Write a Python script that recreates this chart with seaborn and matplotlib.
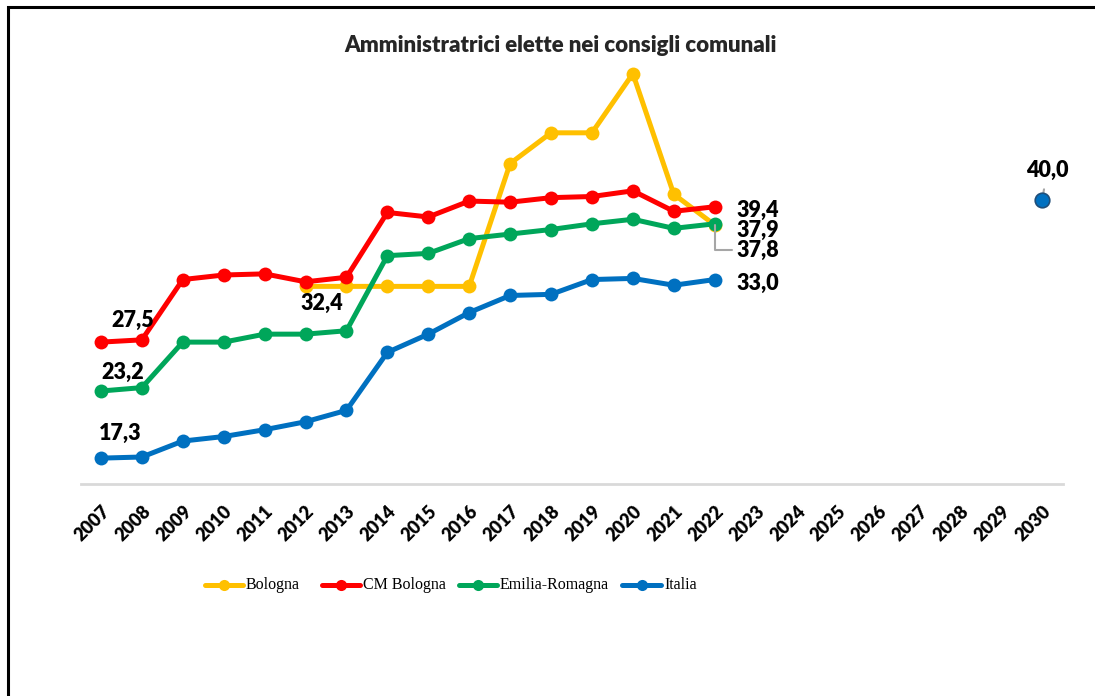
import numpy as np
import pandas as pd
import matplotlib
matplotlib.use("Agg")
import matplotlib.pyplot as plt
from matplotlib.lines import Line2D
import seaborn as sns

# Share of women elected to municipal councils (%)
years = [str(y) for y in range(2007, 2031)]
bologna = [None, None, None, None, None, 32.4, 32.4, 32.4, 32.4, 32.4,
           43.2, 45.9, 45.9, 51.1, 40.5, 37.8]
cm_bologna = [27.5, 27.7, 33.0, 33.4, 33.5, 32.8, 33.2, 38.9, 38.5, 39.9,
              39.8, 40.2, 40.3, 40.8, 39.0, 39.4]
emilia_romagna = [23.2, 23.5, 27.5, 27.5, 28.2, 28.2, 28.5, 35.1, 35.3, 36.6,
                  37.0, 37.4, 37.9, 38.3, 37.5, 37.9]
italia = [17.3, 17.4, 18.8, 19.2, 19.8, 20.5, 21.5, 26.6, 28.2, 30.1,
          31.6, 31.7, 33.0, 33.1, 32.5, 33.0]
target_year = "2030"
target_value = 40.0

series_names = ["Bologna", "CM Bologna", "Emilia-Romagna", "Italia"]
series_values = [bologna, cm_bologna, emilia_romagna, italia]
colors = ["#FFC000", "#FF0000", "#00A65A", "#0070C0"]

rows = []
for name, vals in zip(series_names, series_values):
    for yr, v in zip(years, vals):
        rows.append({"anno": yr, "serie": name, "valore": v})
df = pd.DataFrame(rows).dropna()

sns.set_theme(style="white")
plt.rcParams["font.family"] = ["Lato", "DejaVu Sans"]
W, H = 1095, 696

fig = plt.figure(figsize=(W / 100, H / 100), dpi=100)
ax = fig.add_axes([80.5 / W, (H - 484.3) / H, 982 / W, 455 / H])

pos = {y: i for i, y in enumerate(years)}
df["x"] = df["anno"].map(pos)

sns.lineplot(data=df, x="x", y="valore", hue="serie", hue_order=series_names,
             palette=colors, linewidth=3.6, marker="o", markersize=10,
             markeredgewidth=0, ax=ax, legend=False, sort=False)
for line in ax.lines:
    line.set_clip_on(False)

# 2030 target point
ax.scatter([pos[target_year]], [target_value], s=110, color="#0070C0",
           edgecolor="#1F4E79", linewidth=1.2, zorder=5, clip_on=False)

ax.set_xlim(-0.5, len(years) - 0.5)
ax.set_ylim(15, 55)
ax.set_xticks(range(len(years)))
ax.set_xticklabels(years, rotation=45, ha="right", rotation_mode="anchor",
                   fontsize=13, fontweight="heavy", color="black")
ax.tick_params(axis="x", length=0, pad=13)
ax.set_yticks([])
ax.set_xlabel("")
ax.set_ylabel("")
for s in ["top", "right", "left"]:
    ax.spines[s].set_visible(False)
ax.spines["bottom"].set_color("#D9D9D9")
ax.spines["bottom"].set_linewidth(2)

lab = dict(fontsize=15.5, fontweight="heavy", color="black", va="center")
fmt = lambda v: f"{v:.1f}".replace(".", ",")
ax.annotate(fmt(italia[0]), (0, italia[0]), xytext=(14, 17.5),
            textcoords="offset points", ha="center", **lab)
ax.annotate(fmt(emilia_romagna[0]), (0, emilia_romagna[0]), xytext=(16, 13.5),
            textcoords="offset points", ha="center", **lab)
ax.annotate(fmt(cm_bologna[0]), (0, cm_bologna[0]), xytext=(23, 15.5),
            textcoords="offset points", ha="center", **lab)
ax.annotate(fmt(bologna[5]), (5, bologna[5]), xytext=(12, -12.5),
            textcoords="offset points", ha="center", **lab)
last = len(italia) - 1
ax.annotate(fmt(cm_bologna[last]), (last, cm_bologna[last]), xytext=(16, -2.5),
            textcoords="offset points", ha="left", **lab)
ax.annotate(fmt(emilia_romagna[last]), (last, emilia_romagna[last]),
            xytext=(16, -4.5), textcoords="offset points", ha="left", **lab)
ax.annotate(fmt(italia[last]), (last, italia[last]), xytext=(16, -2.5),
            textcoords="offset points", ha="left", **lab)
ax.annotate(fmt(bologna[last]), (last, bologna[last]), xytext=(16, -18),
            textcoords="offset points", ha="left", **lab,
            arrowprops=dict(arrowstyle="-", color="#A6A6A6", lw=1.5,
                            connectionstyle="angle,angleA=0,angleB=90,rad=0",
                            shrinkA=1, shrinkB=0))
ax.annotate(fmt(target_value), (pos[target_year], target_value),
            xytext=(4, 21.5), textcoords="offset points", ha="center", **lab,
            arrowprops=dict(arrowstyle="-", color="#A6A6A6", lw=1.5,
                            shrinkA=4, shrinkB=5))

fig.text(560 / W, 1 - 45 / H, "Amministratrici elette nei consigli comunali",
         ha="center", va="center", fontsize=16, fontweight="heavy")

# Legend entries: sample line with marker, then the series name
legend_line_x = [(205, 243), (322, 360), (459, 497), (622, 661)]
legend_y = 1 - 585 / H
for (x0, x1), c, name in zip(legend_line_x, colors, series_names):
    fig.add_artist(Line2D([x0 / W, x1 / W], [legend_y, legend_y],
                          transform=fig.transFigure, color=c, linewidth=3.6,
                          solid_capstyle="round"))
    fig.add_artist(Line2D([(x0 + x1) / 2 / W], [legend_y],
                          transform=fig.transFigure, color=c, marker="o",
                          markersize=8, markeredgewidth=0, linestyle="none"))
    fig.text((x1 + 3) / W, legend_y, name, ha="left", va="center",
             family="Liberation Serif", fontsize=11.5, color="black")

# Frame around the chart
fig.add_artist(plt.Rectangle((7.5 / W, -0.05), 1.1, 1 - 6.5 / H + 0.05,
                             transform=fig.transFigure, fill=False,
                             edgecolor="black", linewidth=2.2))

fig.savefig("out.png", dpi=100)
